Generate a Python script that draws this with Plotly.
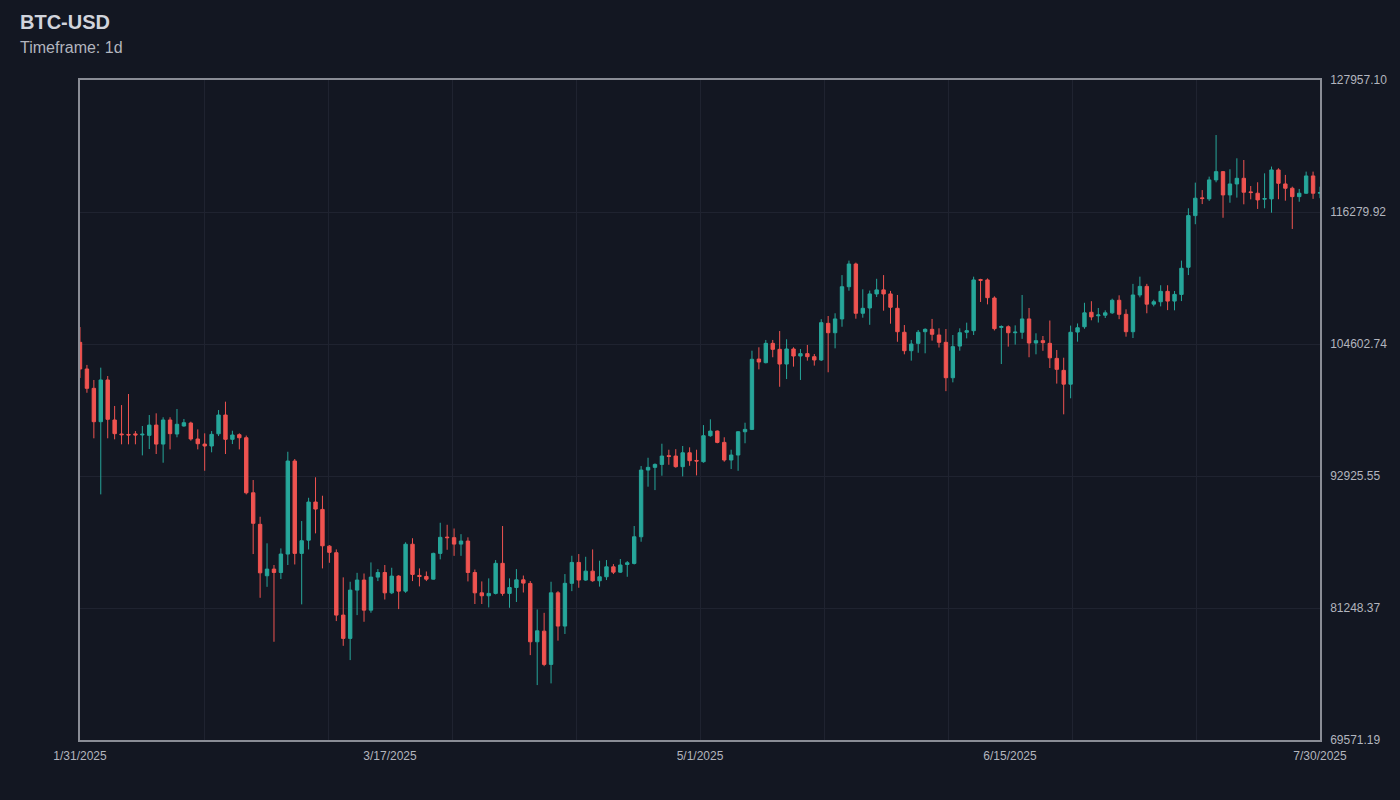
import plotly.graph_objects as go
import numpy as np

# ---- data (daily candles, BTC-USD) ----
OPEN = [104750, 102390, 100680, 97730, 101420, 97880, 96640, 96600, 96650, 96560,
        96520, 97430, 95750, 97880, 96640, 97350, 97610, 96200, 95750, 95580,
        96660, 98320, 96170, 96580, 96310, 91440, 88650, 84100, 84690, 84390,
        86020, 94250, 86080, 87250, 90620, 89970, 86720, 86140, 80620, 78560,
        82830, 83720, 81060, 83980, 84390, 82590, 84070, 82740, 86890, 84130,
        84040, 83800, 86080, 87520, 87470, 86900, 87170, 84390, 82590, 82330,
        82540, 85200, 82540, 83060, 83740, 83420, 78260, 79200, 76260, 82590,
        79650, 83430, 85280, 83720, 84510, 83660, 84010, 84890, 84420, 85100,
        85190, 87550, 93450, 93690, 93950, 94720, 94690, 93750, 94980, 94300,
        94190, 96490, 96900, 95900, 94340, 94780, 96840, 97050, 103270, 102950,
        104660, 104130, 102830, 104160, 103540, 103750, 103480, 103190, 106430, 105600,
        106820, 109670, 111680, 107320, 107790, 109030, 109390, 109030, 107760, 105640,
        104010, 104660, 105690, 105900, 105400, 104750, 101620, 104420, 105640, 105780,
        110300, 110270, 108670, 106070, 106130, 105600, 105640, 106820, 104690, 104900,
        104660, 103330, 102270, 101050, 105660, 106130, 107410, 107100, 107150, 107360,
        108470, 107230, 105690, 108940, 109700, 108130, 108340, 109260, 108400, 108990,
        111390, 115960, 117530, 117440, 119120, 119850, 117790, 118760, 119260, 118060,
        117940, 117410, 117440, 120000, 118760, 118380, 117640, 117940, 119470, 117940]

HIGH = [106100, 102750, 101420, 102510, 101770, 99120, 99200, 100180, 96900, 97350,
        98320, 98470, 98120, 98120, 98850, 97970, 97730, 97050, 96700, 96900,
        98760, 99500, 96930, 96700, 96500, 92570, 89320, 86970, 85050, 86520,
        95070, 94430, 88940, 91000, 92810, 91180, 86810, 86430, 83960, 83570,
        84360, 84300, 85280, 84690, 85050, 84810, 84150, 87060, 87420, 84750,
        84480, 86140, 88790, 88610, 88280, 87780, 87500, 84650, 83600, 83870,
        85490, 88500, 83870, 84690, 84120, 83630, 81120, 80820, 83570, 82740,
        84250, 85870, 86020, 85780, 86430, 85430, 85490, 85130, 85580, 85400,
        88500, 93810, 94540, 94040, 95780, 95250, 95300, 95580, 95460, 95250,
        97430, 97940, 96950, 96350, 95250, 96900, 97640, 104010, 104310, 104960,
        104960, 105750, 105020, 104310, 104160, 104520, 103720, 106800, 107080, 107320,
        110700, 111980, 111800, 109440, 109330, 110370, 110700, 109300, 108940, 106280,
        104960, 105840, 105990, 106820, 105990, 105930, 105400, 105990, 106490, 110560,
        110370, 110400, 108820, 106250, 106250, 106250, 108940, 107790, 105550, 105310,
        106680, 104070, 103390, 106230, 106420, 108250, 108390, 107790, 107580, 108610,
        108910, 107670, 109920, 110560, 109920, 108520, 109800, 109800, 109290, 111980,
        116610, 118880, 118220, 119410, 123090, 119910, 120060, 121030, 120880, 118580,
        118910, 119700, 120300, 120150, 119560, 118520, 118320, 119850, 119850, 118520]

LOW = [101600, 100290, 96260, 91300, 96260, 96170, 95730, 95730, 95730, 94750,
       95310, 94870, 94100, 95280, 96350, 97290, 96050, 95280, 93390, 95020,
       96460, 94870, 95750, 95280, 91300, 86020, 82150, 83120, 78260, 83810,
       85050, 85100, 81570, 86430, 87850, 84750, 85250, 80090, 77900, 76640,
       80620, 80030, 80830, 83630, 82000, 82480, 81150, 82590, 83630, 83160,
       83630, 83770, 85550, 86400, 85860, 85860, 83600, 81600, 81600, 81300,
       82450, 82330, 81270, 81780, 82620, 77080, 74430, 76100, 74580, 78360,
       78950, 82740, 83040, 83650, 83570, 83140, 83720, 84250, 84360, 84010,
       85100, 87110, 91980, 91680, 92950, 93920, 93660, 92890, 93830, 92980,
       94100, 96400, 95820, 94190, 93540, 93390, 95820, 96990, 102360, 102890,
       103430, 100820, 101500, 102600, 101420, 103130, 102690, 103100, 102100, 104220,
       106130, 109320, 106840, 106930, 106300, 108760, 107550, 106400, 104800, 103690,
       103130, 103830, 103780, 104900, 104290, 100430, 101210, 104010, 105100, 105400,
       108320, 108110, 105800, 102830, 104370, 104550, 105060, 103430, 103690, 104000,
       102480, 101100, 98380, 99800, 104810, 105950, 106700, 106500, 106900, 107270,
       106800, 105250, 105130, 108730, 107320, 107930, 107930, 107600, 107580, 108400,
       110700, 115200, 116980, 117260, 118910, 115770, 117100, 117550, 116960, 117400,
       116550, 116610, 116220, 117410, 117280, 114780, 117190, 117880, 117440, 117500]

CLOSE = [102390, 100680, 97730, 101420, 97940, 96670, 96580, 96560, 96560, 96620,
         97430, 95750, 97880, 96670, 97500, 97640, 96200, 95780, 95580, 96610,
         98320, 96170, 96550, 96310, 91440, 88740, 84360, 84690, 84390, 86020,
         94250, 86080, 87200, 90620, 90000, 86750, 86170, 80620, 78560, 82830,
         83720, 81060, 83980, 84390, 82590, 84070, 82740, 86890, 84220, 84040,
         83800, 86080, 87500, 87470, 86900, 87170, 84390, 82590, 82330, 82540,
         85200, 82540, 83060, 83740, 83450, 78260, 79230, 76260, 82590, 79650,
         83430, 85280, 83720, 84510, 83660, 84010, 84890, 84420, 85050, 85250,
         87550, 93450, 93690, 93950, 94690, 94660, 93750, 94980, 94280, 94250,
         96490, 96900, 95900, 94340, 94780, 96840, 97050, 103250, 103010, 104660,
         104130, 102830, 104160, 103540, 103750, 103480, 103190, 106490, 105600, 106820,
         109670, 111680, 107320, 107760, 109030, 109390, 109030, 107850, 105690, 104010,
         104600, 105640, 105900, 105460, 104750, 101620, 104370, 105600, 105780, 110270,
         110240, 108700, 105960, 106150, 105600, 105650, 106820, 104690, 104900, 104720,
         103380, 102360, 101050, 105640, 106040, 107360, 107000, 107170, 107360, 108470,
         107230, 105690, 108940, 109700, 108130, 108340, 109260, 108400, 108990, 111300,
         115960, 117500, 117470, 119120, 119850, 117790, 118760, 119260, 118030, 118000,
         117350, 117470, 120000, 118820, 118380, 117640, 117940, 119470, 117940, 118000]

TICK_LABELS = ["1/31/2025", "3/17/2025", "5/1/2025", "6/15/2025", "7/30/2025"]
Y_TICKS = [69571.19, 81248.37, 92925.55, 104602.74, 116279.92, 127957.10]

TITLE = "BTC-USD"
SUBTITLE = "Timeframe: 1d"

# ---- style ----
BG = "#131722"
GRID = "#1f2330"
FRAME = "#8a8d96"
UP = "#26a69a"
DOWN = "#ef5350"
TEXT = "#b2b5be"
FONT = "Liberation Sans, Arial, sans-serif"

n = len(OPEN)
xs = list(range(n))

fig = go.Figure(go.Candlestick(
    x=xs, open=OPEN, high=HIGH, low=LOW, close=CLOSE,
    increasing=dict(line=dict(color=UP, width=1), fillcolor=UP),
    decreasing=dict(line=dict(color=DOWN, width=1), fillcolor=DOWN),
    whiskerwidth=0,
    showlegend=False,
))

tickpos = list(np.linspace(0, n - 1, len(TICK_LABELS)))

fig.update_layout(
    width=1400, height=800,
    margin=dict(l=80, r=80, t=80, b=60),
    paper_bgcolor=BG, plot_bgcolor=BG,
    font=dict(family=FONT, color=TEXT, size=12),
    xaxis=dict(
        range=[0, n - 1], rangeslider=dict(visible=False),
        tickmode="array", tickvals=tickpos, ticktext=TICK_LABELS,
        showgrid=False, zeroline=False,
        showline=True, linecolor=FRAME, linewidth=1.5, mirror=True,
        ticks="", ticklabelstandoff=4, tickfont=dict(size=12, color=TEXT),
        minor=dict(tick0=0, dtick=(n - 1) / 10, showgrid=True,
                   gridcolor=GRID, gridwidth=1, ticks=""),
    ),
    yaxis=dict(
        range=[Y_TICKS[0], Y_TICKS[-1]], side="right",
        tickmode="array", tickvals=Y_TICKS,
        ticktext=[f"{v:.2f}" for v in Y_TICKS],
        showgrid=True, gridcolor=GRID, gridwidth=1, zeroline=False,
        showline=True, linecolor=FRAME, linewidth=1.5, mirror=True,
        ticks="", ticklabelstandoff=6, tickfont=dict(size=12, color=TEXT),
    ),
    annotations=[
        dict(text=f"<b>{TITLE}</b>", xref="paper", yref="paper",
             x=-62 / 1240, y=1 + 58 / 660, xanchor="left", yanchor="middle",
             showarrow=False, font=dict(size=20, color="#d1d4dc", family=FONT)),
        dict(text=SUBTITLE, xref="paper", yref="paper",
             x=-62 / 1240, y=1 + 32 / 660, xanchor="left", yanchor="middle",
             showarrow=False, font=dict(size=16, color=TEXT, family=FONT)),
    ],
)

fig.write_html(
    "out.html",
    config={"displayModeBar": False},
    post_script="document.body.style.margin='0';document.body.style.background='#131722';",
)
